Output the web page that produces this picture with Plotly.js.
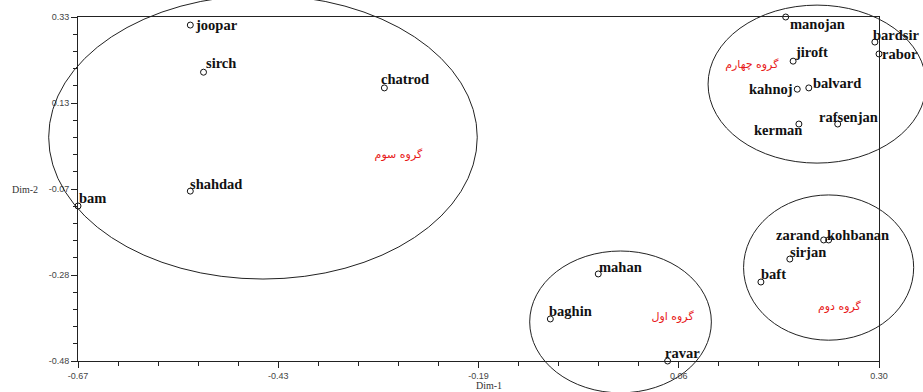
<!DOCTYPE html>
<html>
<head>
<meta charset="utf-8">
<script src="https://cdn.plot.ly/plotly-3.0.1.min.js"></script>
<style>
  html, body { margin: 0; padding: 0; background: #fff; }
  #chart { width: 923px; height: 392px; }
</style>
</head>
<body>
<div id="chart"></div>
<script>
// cities on the two dimensions
const cities = ['joopar', 'sirch', 'chatrod', 'shahdad', 'bam',
    'manojan', 'bardsir', 'rabor', 'jiroft', 'kahnoj', 'balvard', 'rafsenjan', 'kerman',
    'zarand', 'kohbanan', 'sirjan', 'baft',
    'mahan', 'baghin', 'ravar'];
const dim1 = [-0.534, -0.518, -0.299, -0.534, -0.670,
    0.187, 0.295, 0.300, 0.196, 0.201, 0.215, 0.250, 0.203,
    0.233, 0.239, 0.192, 0.157,
    -0.040, -0.098, 0.044];
const dim2 = [0.311, 0.200, 0.163, -0.080, -0.115,
    0.330, 0.271, 0.243, 0.226, 0.160, 0.163, 0.078, 0.078,
    -0.195, -0.195, -0.240, -0.294,
    -0.275, -0.381, -0.480];

// label placement next to each point (pixels)
const labelAnchor = ['left', 'left', 'left', 'left', 'left',
    'left', 'left', 'left', 'left', 'right', 'left', 'left', 'right',
    'right', 'left', 'left', 'left',
    'left', 'left', 'left'];
const labelDx = [4, 1, -4, -1, 0,
    3, -3, 2, 1, -3, 3, -20, 4,
    -3, -3, -1, -1,
    0, -2, -4];
const labelDy = [0, -9, -9, -7, -8,
    7, -7, 0, -9, 0, -5, -7, 6,
    -5, -5, -7, -8,
    -7, -8, -8];

// groups: label text, label position, ellipse centre and radii
const groupNames = ['گروه اول', 'گروه دوم', 'گروه سوم', 'گروه چهارم'];
const groupLabelX = [0.050, 0.252, -0.282, 0.146];
const groupLabelY = [-0.376, -0.353, 0.005, 0.217];
const ellCx = [-0.013, 0.239, -0.446, 0.225];
const ellCy = [-0.388, -0.260, 0.047, 0.172];
const ellRx = [0.110, 0.103, 0.2595, 0.132];
const ellRy = [0.167, 0.171, 0.334, 0.186];

// axis ticks
const xTickVals = [-0.67, -0.4275, -0.185, 0.0575, 0.30];
const xTickText = ['-0.67', '-0.43', '-0.19', '0.06', '0.30'];
const yTickVals = [0.33, 0.1275, -0.075, -0.2775, -0.48];
const yTickText = ['0.33', '0.13', '-0.07', '-0.28', '-0.48'];

const xRange = [-0.67, 0.30];
const yRange = [-0.48, 0.33];

const toPaperX = v => (v - xRange[0]) / (xRange[1] - xRange[0]);
const toPaperY = v => (v - yRange[0]) / (yRange[1] - yRange[0]);

const points = {
    x: dim1,
    y: dim2,
    text: cities,
    mode: 'markers',
    type: 'scatter',
    cliponaxis: false,
    marker: { symbol: 'circle-open', size: 6, color: '#111', line: { width: 1, color: '#111' } },
    hoverinfo: 'text'
};

const groupText = {
    x: groupLabelX,
    y: groupLabelY,
    text: groupNames,
    mode: 'text',
    type: 'scatter',
    cliponaxis: false,
    textfont: { family: 'DejaVu Sans', size: 11, color: '#e81818' },
    hoverinfo: 'none'
};

// city names as annotations so they sit tight to the markers
const cityLabels = cities.map((name, i) => ({
    text: '<b>' + name + '</b>',
    x: dim1[i],
    y: dim2[i],
    xref: 'x',
    yref: 'y',
    xanchor: labelAnchor[i],
    yanchor: 'middle',
    xshift: labelDx[i],
    yshift: -labelDy[i],
    showarrow: false,
    borderpad: 0,
    font: { family: 'Liberation Serif', size: 14.5, color: '#111' }
}));

// ellipses go past the axes, so draw them in paper coords
const shapes = ellCx.map((cx, i) => ({
    type: 'circle',
    xref: 'paper',
    yref: 'paper',
    x0: toPaperX(cx - ellRx[i]),
    x1: toPaperX(cx + ellRx[i]),
    y0: toPaperY(ellCy[i] - ellRy[i]),
    y1: toPaperY(ellCy[i] + ellRy[i]),
    line: { color: '#222', width: 1 }
}));

const axisCommon = {
    showgrid: false,
    zeroline: false,
    showline: true,
    mirror: true,
    linecolor: '#222',
    linewidth: 1,
    ticks: 'outside',
    ticklen: 6,
    tickcolor: '#222',
    tickmode: 'array',
    tickfont: { family: 'Liberation Sans', size: 9, color: '#444' },
    fixedrange: true
};

const layout = {
    width: 923,
    height: 392,
    margin: { l: 78, r: 44, t: 17, b: 31 },
    paper_bgcolor: '#fff',
    plot_bgcolor: '#fff',
    showlegend: false,
    xaxis: Object.assign({}, axisCommon, {
        range: xRange,
        tickvals: xTickVals,
        ticktext: xTickText,
        minor: { tick0: -0.67, dtick: 0.0485, ticks: 'outside', ticklen: 4, tickcolor: '#222' }
    }),
    yaxis: Object.assign({}, axisCommon, {
        range: yRange,
        tickvals: yTickVals,
        ticktext: yTickText,
        minor: { tick0: -0.48, dtick: 0.0405, ticks: 'outside', ticklen: 4, tickcolor: '#222' }
    }),
    shapes: shapes,
    annotations: cityLabels.concat([
        {
            text: 'Dim-2', xref: 'paper', yref: 'y', x: -0.048, y: -0.075,
            xanchor: 'right', yanchor: 'middle', showarrow: false,
            font: { family: 'Liberation Serif', size: 10, color: '#333' }
        },
        {
            text: 'Dim-1', xref: 'x', yref: 'paper', x: -0.172, y: -0.07,
            xanchor: 'center', yanchor: 'middle', showarrow: false,
            font: { family: 'Liberation Serif', size: 10, color: '#333' }
        }
    ])
};

Plotly.newPlot('chart', [points, groupText], layout, { displayModeBar: false, staticPlot: true });
</script>
</body>
</html>
